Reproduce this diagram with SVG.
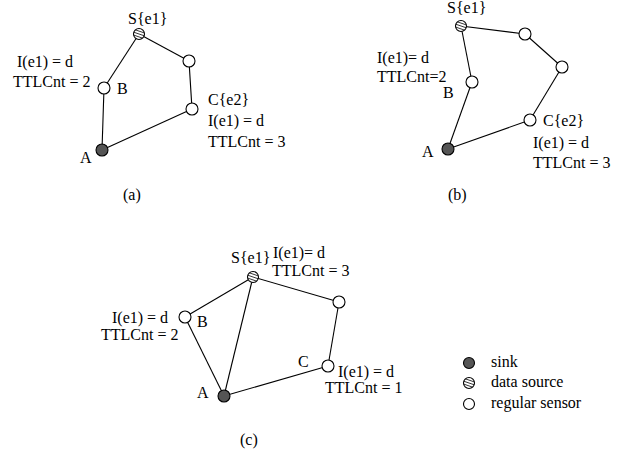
<svg xmlns="http://www.w3.org/2000/svg" xmlns:xlink="http://www.w3.org/1999/xlink" width="624" height="455" viewBox="0 0 624 455">
<style>
text{font-family:"Liberation Serif","Times New Roman",serif;font-size:16px;fill:#000}
.e line{stroke:#000;stroke-width:1.1}
.reg{fill:#fff;stroke:#000;stroke-width:1.1}
.sink{fill:#555;stroke:#000;stroke-width:1.1}
</style>
<defs>
<clipPath id="cc"><circle cx="0" cy="0" r="5.5"/></clipPath>
<g id="src">
<circle cx="0" cy="0" r="5.5" fill="#fff"/>
<g clip-path="url(#cc)" stroke="#000" stroke-width="0.8">
<line x1="-7" y1="-5.3" x2="7" y2="-0.5"/>
<line x1="-7" y1="-2.4" x2="7" y2="2.4"/>
<line x1="-7" y1="0.5" x2="7" y2="5.3"/>
</g>
<circle cx="0" cy="0" r="5.5" fill="none" stroke="#000" stroke-width="1.1"/>
</g>
</defs>
<rect width="624" height="455" fill="#fff"/>

<g id="connectors" class="e">
<!-- (a) -->
<line x1="139" y1="34" x2="189" y2="61"/>
<line x1="189" y1="61" x2="192" y2="109"/>
<line x1="192" y1="109" x2="102" y2="150"/>
<line x1="102" y1="150" x2="104" y2="88"/>
<line x1="104" y1="88" x2="139" y2="34"/>
<!-- (b) -->
<line x1="461" y1="26" x2="525" y2="34"/>
<line x1="525" y1="34" x2="562" y2="67"/>
<line x1="562" y1="67" x2="530" y2="120"/>
<line x1="530" y1="120" x2="448" y2="149"/>
<line x1="448" y1="149" x2="472" y2="82"/>
<line x1="472" y1="82" x2="461" y2="26"/>
<!-- (c) -->
<line x1="253" y1="277" x2="185" y2="317"/>
<line x1="185" y1="317" x2="224" y2="396"/>
<line x1="224" y1="396" x2="253" y2="277"/>
<line x1="253" y1="277" x2="339" y2="302"/>
<line x1="339" y1="302" x2="328" y2="366"/>
<line x1="328" y1="366" x2="224" y2="396"/>
</g>

<!-- panel (a) -->
<g id="a-S"><use xlink:href="#src" x="139" y="34"/><text x="128" y="24">S{e1}</text></g>
<g id="a-N1"><circle class="reg" cx="189" cy="61" r="6"/></g>
<g id="a-C"><circle class="reg" cx="192" cy="109" r="6"/><text x="208" y="105">C{e2}</text><text x="208" y="126">I(e1) = d</text><text x="208" y="147">TTLCnt = 3</text></g>
<g id="a-B"><circle class="reg" cx="104" cy="88" r="6"/><text x="117" y="94">B</text><text x="17" y="67">I(e1) = d</text><text x="13" y="87">TTLCnt = 2</text></g>
<g id="a-A"><circle class="sink" cx="102" cy="150" r="6"/><text x="80" y="163">A</text></g>
<text x="123" y="200">(a)</text>

<!-- panel (b) -->
<g id="b-S"><use xlink:href="#src" x="461" y="26"/><text x="447" y="13">S{e1}</text></g>
<g id="b-N1"><circle class="reg" cx="525" cy="34" r="6"/></g>
<g id="b-N2"><circle class="reg" cx="562" cy="67" r="6"/></g>
<g id="b-C"><circle class="reg" cx="530" cy="120" r="6"/><text x="543" y="126">C{e2}</text><text x="533" y="148">I(e1) = d</text><text x="533" y="168">TTLCnt = 3</text></g>
<g id="b-B"><circle class="reg" cx="472" cy="82" r="6"/><text x="443" y="98">B</text><text x="377" y="63">I(e1)= d</text><text x="377" y="82">TTLCnt=2</text></g>
<g id="b-A"><circle class="sink" cx="448" cy="149" r="6"/><text x="422" y="157">A</text></g>
<text x="448" y="200">(b)</text>

<!-- panel (c) -->
<g id="c-S"><use xlink:href="#src" x="253" y="277"/><text x="231" y="263">S{e1}</text><text x="273" y="258">I(e1)= d</text><text x="272" y="276">TTLCnt = 3</text></g>
<g id="c-N1"><circle class="reg" cx="339" cy="302" r="6"/></g>
<g id="c-C"><circle class="reg" cx="328" cy="366" r="6"/><text x="298" y="367">C</text><text x="338" y="377">I(e1) = d</text><text x="325" y="393">TTLCnt = 1</text></g>
<g id="c-B"><circle class="reg" cx="185" cy="317" r="6"/><text x="197" y="327">B</text><text x="112" y="323">I(e1) = d</text><text x="101" y="340">TTLCnt = 2</text></g>
<g id="c-A"><circle class="sink" cx="224" cy="396" r="6"/><text x="197" y="398">A</text></g>
<text x="240" y="445">(c)</text>

<!-- legend -->
<g id="legend">
<circle class="sink" cx="469" cy="363" r="5.5"/><text x="491" y="367">sink</text>
<use xlink:href="#src" x="469" y="383"/><text x="491" y="387">data source</text>
<circle class="reg" cx="469" cy="404" r="5.5"/><text x="491" y="408">regular sensor</text>
</g>
</svg>
